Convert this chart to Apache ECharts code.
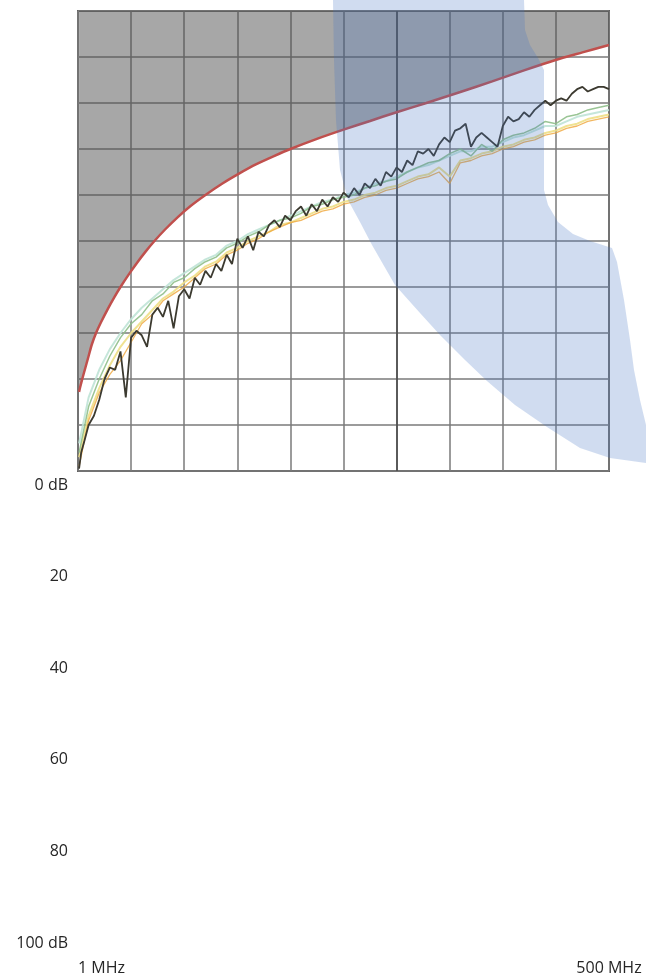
<!DOCTYPE html>
<html>
<head>
<meta charset="utf-8">
<script src="https://cdn.jsdelivr.net/npm/echarts/dist/echarts.min.js"></script>
<style>
  html, body { margin: 0; padding: 0; background: #ffffff; }
  #chart { width: 646px; height: 977px; }
</style>
</head>
<body>
<div id="chart"></div>
<script>
// ---------------- data ----------------
const yTickLabels = ['0 dB', '20', '40', '60', '80', '100 dB'];
const xTickLabels = ['1 MHz', '500 MHz'];

// limit line (MHz, dB)
const limitFreq = [1, 2, 4, 7, 10, 13, 17, 22, 28, 34, 40, 48, 56, 64, 72, 82, 94, 106, 120, 136, 152, 168, 184,
  200, 225, 250, 275, 300, 328, 360, 390, 420, 449, 475, 500];
const limitDb   = [82.8, 81.8, 80, 77.5, 75, 72.5, 70, 67.5, 64.8, 62.3, 60, 57.2, 54.6, 52.2, 50, 47.5, 44.8, 42.4, 40,
  37.5, 35.3, 33.3, 31.6, 30, 27.8, 25.8, 23.9, 22.0, 20, 17.6, 15.3, 12.9, 10.7, 9.0, 7.4];

// fine sweep (black trace)
const freqFine = [1, 3, 6, 10, 15, 20, 25, 30, 35, 40, 45, 50, 55, 60, 65, 70, 75, 80, 85, 90, 95,
  100, 105, 110, 115, 120, 125, 130, 135, 140, 145, 150, 155, 160, 165, 170, 175, 180, 185, 190, 195,
  200, 205, 210, 215, 220, 225, 230, 235, 240, 245, 250, 255, 260, 265, 270, 275, 280, 285, 290, 295,
  300, 305, 310, 315, 320, 325, 330, 335, 340, 345, 350, 355, 360, 365, 370, 375, 380, 385, 390, 395,
  400, 405, 410, 415, 420, 425, 430, 435, 440, 445, 450, 455, 460, 465, 470, 475, 480, 485, 490, 495, 500];
const dbBlack = [99.5, 96, 93.5, 90, 88, 84.5, 80, 77.5, 78, 74, 84, 71, 69.5, 70.5, 73, 66, 64.5, 66.5, 63, 69, 62,
  60.5, 62.5, 58, 59.5, 56.5, 58, 55, 56.5, 53, 55, 49.5, 51.5, 49, 52, 48, 49, 46.5, 45.5, 47, 44.5,
  45.5, 43.5, 42.5, 44.5, 42, 43.5, 41, 42.5, 40.5, 41.5, 39.5, 40.5, 38.5, 40, 37.5, 38.5, 36.5, 38, 35, 36,
  34, 35, 32.5, 33.5, 30.5, 31, 30, 31.5, 29, 27.5, 28.5, 26, 25.5, 24.5, 29.5, 27.5, 26.5, 27.5, 28.5, 29.5,
  25, 23, 24, 23.5, 22, 23, 21.5, 20.5, 19.5, 20.5, 19.5, 19, 19.5, 18, 17, 16.5, 17.5, 17, 16.5, 16.5, 17];

// coarse sweep (other pairs)
const freqCoarse = [1, 10, 20, 30, 40, 50, 60, 70, 80, 90, 100, 110, 120, 130, 140, 150, 160, 170, 180, 190,
  200, 210, 220, 230, 240, 250, 260, 270, 280, 290, 300, 310, 320, 330, 340, 350, 360, 370, 380, 390,
  400, 410, 420, 430, 440, 450, 460, 470, 480, 490, 500];
const dbGreen = [96, 86, 80, 75, 71, 68, 66, 63, 61.5, 59, 58, 56, 54.5, 53.5, 51.5, 50.5, 49, 48, 46.5, 45.5,
  45, 44, 42.5, 42, 41, 40.5, 40, 38.5, 38, 37, 36.5, 35, 34, 33, 32.5, 31, 30, 31.5, 29, 30.5,
  28, 27, 26.5, 25.5, 24, 24.5, 23, 22.5, 21.5, 21, 20.5];
const dbYellow = [97, 88, 82, 77, 73, 70, 67.5, 65, 62.5, 61, 59, 57.5, 55.5, 54.5, 52.5, 51.5, 50, 49, 48, 46.5,
  46, 45, 44, 43, 42.5, 41.5, 41, 40, 39.5, 38.5, 38, 37, 36, 35.5, 34, 36, 32.5, 32, 31, 30.5,
  29.5, 29, 28, 27.5, 26.5, 26, 25, 24.5, 23.5, 23, 22.5];
const dbOrange = [99, 89, 83, 79, 76, 72, 68, 66, 63, 61.5, 60, 58, 56, 55, 53, 52, 50.5, 49.5, 48, 47,
  46, 45.5, 44.5, 43.5, 43, 42, 41.5, 40.5, 40, 39, 38.5, 37.5, 36.5, 36, 35, 37.5, 33, 32.5, 31.5, 31,
  30, 29.5, 28.5, 28, 27, 26.5, 25.5, 25, 24, 23.5, 23];
const dbCyan = [94, 84, 78, 73.5, 70, 67, 64.5, 62.5, 60.5, 58.5, 57, 55.5, 54, 53, 51, 50, 48.5, 47.5, 46.5, 45.5,
  44.5, 43.5, 42.5, 41.5, 41, 40, 39.5, 38.5, 37.5, 37, 36, 35, 34, 33.5, 32.5, 31.5, 30.5, 30.5, 29.5, 29.5,
  28.5, 27.5, 27, 26, 25, 25, 24, 23, 22.5, 22, 21.5];

function pairs(xs, ys) { return xs.map((x, i) => [x, ys[i]]); }

// ---------------- chart ----------------
const chart = echarts.init(document.getElementById('chart'), null, { renderer: 'canvas' });
const FONT = "'Open Sans', sans-serif";
const gridLine = { show: true, lineStyle: { color: '#7a7a7a', width: 1.5 } };

function trace(name, xs, ys, color, width, opacity, z) {
  return {
    name, type: 'line', xAxisIndex: 0, yAxisIndex: 0,
    data: pairs(xs, ys), symbol: 'none', smooth: false, z,
    lineStyle: { color, width, opacity }
  };
}

const option = {
  animation: false,
  backgroundColor: '#ffffff',
  grid: [
    { left: 78, top: 11, width: 531, height: 460, show: true, backgroundColor: '#ffffff',
      borderColor: '#5f5f5f', borderWidth: 2 },
    { left: 78, top: 485, width: 531, height: 458, show: false }
  ],
  xAxis: [
    { gridIndex: 0, type: 'value', min: 0, max: 500, interval: 50,
      axisLine: { show: false }, axisTick: { show: false }, axisLabel: { show: false }, splitLine: gridLine },
    { gridIndex: 1, type: 'value', min: 0, max: 500, interval: 500,
      axisLine: { show: false }, axisTick: { show: false }, splitLine: { show: false },
      axisLabel: { show: true, margin: 17, fontSize: 16, color: '#262626', fontFamily: FONT,
        alignMinLabel: 'left', alignMaxLabel: 'center',
        formatter: (v, i) => xTickLabels[i] } }
  ],
  yAxis: [
    { gridIndex: 0, type: 'value', min: 0, max: 100, interval: 10, inverse: true,
      axisLine: { show: false }, axisTick: { show: false }, axisLabel: { show: false }, splitLine: gridLine },
    { gridIndex: 1, type: 'value', min: 0, max: 100, interval: 20, inverse: true,
      axisLine: { show: false }, axisTick: { show: false }, splitLine: { show: false },
      axisLabel: { show: true, margin: 10, fontSize: 16, color: '#262626', fontFamily: FONT,
        formatter: (v, i) => yTickLabels[i] } }
  ],
  series: [
    {
      name: 'limit', type: 'line', xAxisIndex: 0, yAxisIndex: 0,
      data: pairs(limitFreq, limitDb), symbol: 'none', smooth: 0.25, z: 5,
      lineStyle: { color: '#c0504d', width: 2.5 },
      areaStyle: { origin: 'start', color: 'rgba(80,80,80,0.5)', opacity: 1 },
      markLine: { silent: true, symbol: 'none', label: { show: false },
        lineStyle: { color: '#4a4a4a', width: 1.6, type: 'solid' },
        data: [{ xAxis: 300 }] }
    },
    trace('cyan', freqCoarse, dbCyan, '#bfe3d6', 2, 0.9, 3),
    trace('yellow', freqCoarse, dbYellow, '#eedf86', 2, 0.9, 3),
    trace('orange', freqCoarse, dbOrange, '#efa53a', 1.3, 0.8, 3),
    trace('green', freqCoarse, dbGreen, '#8fbf8a', 1.5, 0.9, 4),
    trace('black', freqFine, dbBlack, '#3c3a30', 1.8, 1, 6)
  ],
  graphic: [
    {
      type: 'polygon', z: 100, silent: true,
      shape: { points: [
        [333, 0], [524, 0], [525, 30], [530, 45], [538, 58], [544, 70], [544, 190], [548, 205], [558, 222],
        [573, 234], [590, 241], [612, 248], [617, 262], [624, 300], [630, 340], [634, 370], [640, 400],
        [646, 425], [646, 463], [610, 458], [580, 448], [547, 427], [515, 405], [487, 381], [465, 360],
        [440, 335], [420, 313], [395, 285], [372, 245], [360, 222], [348, 200], [340, 170], [336, 120],
        [334, 60]
      ] },
      style: { fill: 'rgba(68,114,196,0.25)' }
    }
  ]
};
chart.setOption(option);
</script>
</body>
</html>
